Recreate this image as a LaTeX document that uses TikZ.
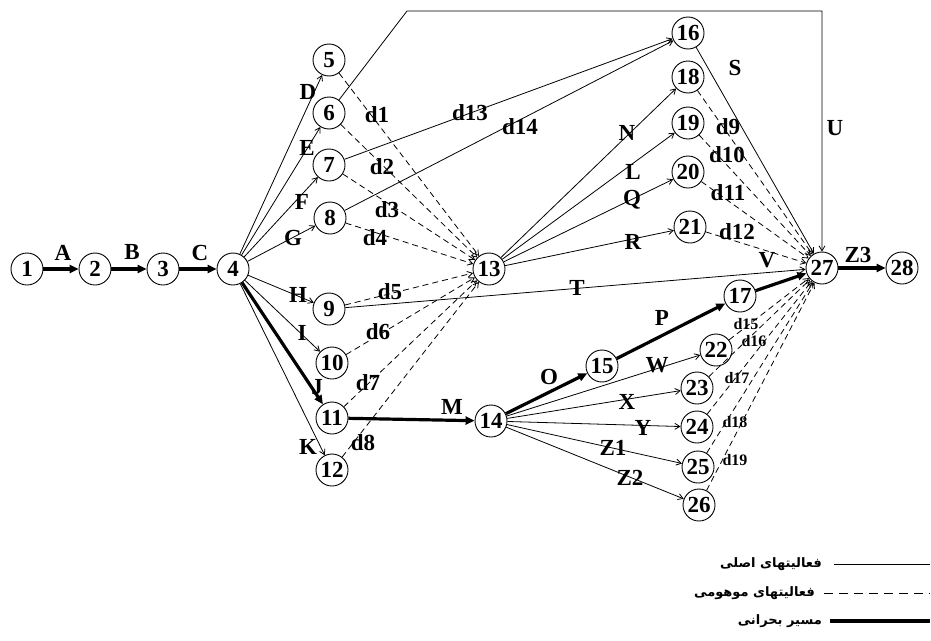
\documentclass[tikz,border=0pt]{standalone}
\usepackage{fontspec}
\setmainfont{Liberation Serif}
\newfontfamily\arabicfont[Script=Arabic]{DejaVu Sans}
\TeXXeTstate=1
\usetikzlibrary{arrows.meta}
\begin{document}
\begin{tikzpicture}[x=1pt,y=-1pt,
 ev/.style={circle,draw,line width=0.9pt,minimum size=32pt,inner sep=0pt,font=\fontsize{23}{23}\selectfont\bfseries},
 lb/.style={font=\fontsize{23}{23}\selectfont\bfseries,inner sep=0pt},
 sl/.style={font=\fontsize{16}{16}\selectfont\bfseries,inner sep=0pt},
 act/.style={line width=0.8pt,-{Straight Barb[length=5pt,width=6pt]}},
 dum/.style={act,dash pattern=on 6pt off 4pt},
 crit/.style={line width=3.2pt,-{Triangle[length=9pt,width=8pt]}},
 leg/.style={font=\arabicfont\bfseries\fontsize{13}{13}\selectfont,anchor=east,inner sep=0pt},
]
\useasboundingbox (0,0) rectangle (931,640);
% events
\node[ev] (n1) at (27,269) {1};
\node[ev] (n2) at (95,269) {2};
\node[ev] (n3) at (163,269) {3};
\node[ev] (n4) at (233,269) {4};
\node[ev] (n5) at (329,60) {5};
\node[ev] (n6) at (329,113) {6};
\node[ev] (n7) at (329,165) {7};
\node[ev] (n8) at (330,218) {8};
\node[ev] (n9) at (329,309) {9};
\node[ev] (n10) at (332,363) {10};
\node[ev] (n11) at (332,418) {11};
\node[ev] (n12) at (332,470) {12};
\node[ev] (n13) at (489,269) {13};
\node[ev] (n14) at (491,421) {14};
\node[ev] (n15) at (602,366) {15};
\node[ev] (n16) at (688,33) {16};
\node[ev] (n17) at (740,296) {17};
\node[ev] (n18) at (688,77) {18};
\node[ev] (n19) at (688,123) {19};
\node[ev] (n20) at (688,172) {20};
\node[ev] (n21) at (690,227) {21};
\node[ev] (n22) at (716,350) {22};
\node[ev] (n23) at (697,388) {23};
\node[ev] (n24) at (697,427) {24};
\node[ev] (n25) at (698,467) {25};
\node[ev] (n26) at (699,505) {26};
\node[ev] (n27) at (822,268) {27};
\node[ev] (n28) at (902,268) {28};
\coordinate (u1) at (407,11);
\coordinate (u2) at (822,11);
% critical path
\draw[crit] (n1) -- (n2);
\draw[crit] (n2) -- (n3);
\draw[crit] (n3) -- (n4);
\draw[crit] (n4) -- (n11);
\draw[crit] (n11) -- (n14);
\draw[crit] (n14) -- (n15);
\draw[crit] (n15) -- (n17);
\draw[crit] (n17) -- (n27);
\draw[crit] (n27) -- (n28);
% activities
\draw[act] (n4) -- (n5);
\draw[act] (n4) -- (n6);
\draw[act] (n4) -- (n7);
\draw[act] (n4) -- (n8);
\draw[act] (n4) -- (n9);
\draw[act] (n4) -- (n10);
\draw[act] (n4) -- (n12);
\draw[act] (n6) -- (u1) -- (u2) -- (n27);
\draw[act] (n7) -- (n16);
\draw[act] (n8) -- (n16);
\draw[act] (n9) -- (n27);
\draw[act] (n13) -- (n18);
\draw[act] (n13) -- (n19);
\draw[act] (n13) -- (n20);
\draw[act] (n13) -- (n21);
\draw[act] (n16) -- (n27);
\draw[act] (n14) -- (n22);
\draw[act] (n14) -- (n23);
\draw[act] (n14) -- (n24);
\draw[act] (n14) -- (n25);
\draw[act] (n14) -- (n26);
% dummies
\foreach \i in {5,6,7,8,9,10,11,12} {\draw[dum] (n\i) -- (n13);}
\foreach \i in {18,19,20,21,22,23,24,25,26} {\draw[dum] (n\i) -- (n27);}
% labels
\node[lb] at (63,253) {A};
\node[lb] at (132,252) {B};
\node[lb] at (200,253) {C};
\node[lb] at (308,92) {D};
\node[lb] at (307,148) {E};
\node[lb] at (302,202) {F};
\node[lb] at (293,238) {G};
\node[lb] at (298,295) {H};
\node[lb] at (302,333) {I};
\node[lb] at (317,387) {J};
\node[lb] at (308,447) {K};
\node[lb] at (377,115) {d1};
\node[lb] at (382,167) {d2};
\node[lb] at (387,210) {d3};
\node[lb] at (375,238) {d4};
\node[lb] at (390,292) {d5};
\node[lb] at (378,332) {d6};
\node[lb] at (368,383) {d7};
\node[lb] at (363,443) {d8};
\node[lb] at (470,113) {d13};
\node[lb] at (520,127) {d14};
\node[lb] at (627,133) {N};
\node[lb] at (633,172) {L};
\node[lb] at (632,200) {Q};
\node[lb] at (633,242) {R};
\node[lb] at (452,407) {M};
\node[lb] at (577,288) {T};
\node[lb] at (662,318) {P};
\node[lb] at (549,377) {O};
\node[lb] at (657,365) {W};
\node[lb] at (627,402) {X};
\node[lb] at (643,428) {Y};
\node[lb] at (613,448) {Z1};
\node[lb] at (630,478) {Z2};
\node[lb] at (735,68) {S};
\node[lb] at (835,128) {U};
\node[lb] at (728,127) {d9};
\node[lb] at (727,155) {d10};
\node[lb] at (728,193) {d11};
\node[lb] at (737,232) {d12};
\node[lb] at (858,255) {Z3};
\node[lb] at (767,260) {V};
\node[sl] at (746,324) {d15};
\node[sl] at (754,341) {d16};
\node[sl] at (737,378) {d17};
\node[sl] at (735,422) {d18};
\node[sl] at (735,460) {d19};
% legend
\node[leg] (t1) at (822,564) {\beginR فعالیتهای اصلی\endR};
\node[leg] (t2) at (815,593) {\beginR فعالیتهای موهومی\endR};
\node[leg] (t3) at (822,621) {\beginR مسیر بحرانی\endR};
\coordinate (a1) at (834,564); \coordinate (b1) at (930,564);
\coordinate (a2) at (824,593); \coordinate (b2) at (930,593);
\coordinate (a3) at (830,621); \coordinate (b3) at (930,621);
\draw[line width=0.8pt] (a1) -- (b1);
\draw[line width=0.8pt,dash pattern=on 9pt off 6pt] (a2) -- (b2);
\draw[line width=3.2pt] (a3) -- (b3);
\end{tikzpicture}
\end{document}
